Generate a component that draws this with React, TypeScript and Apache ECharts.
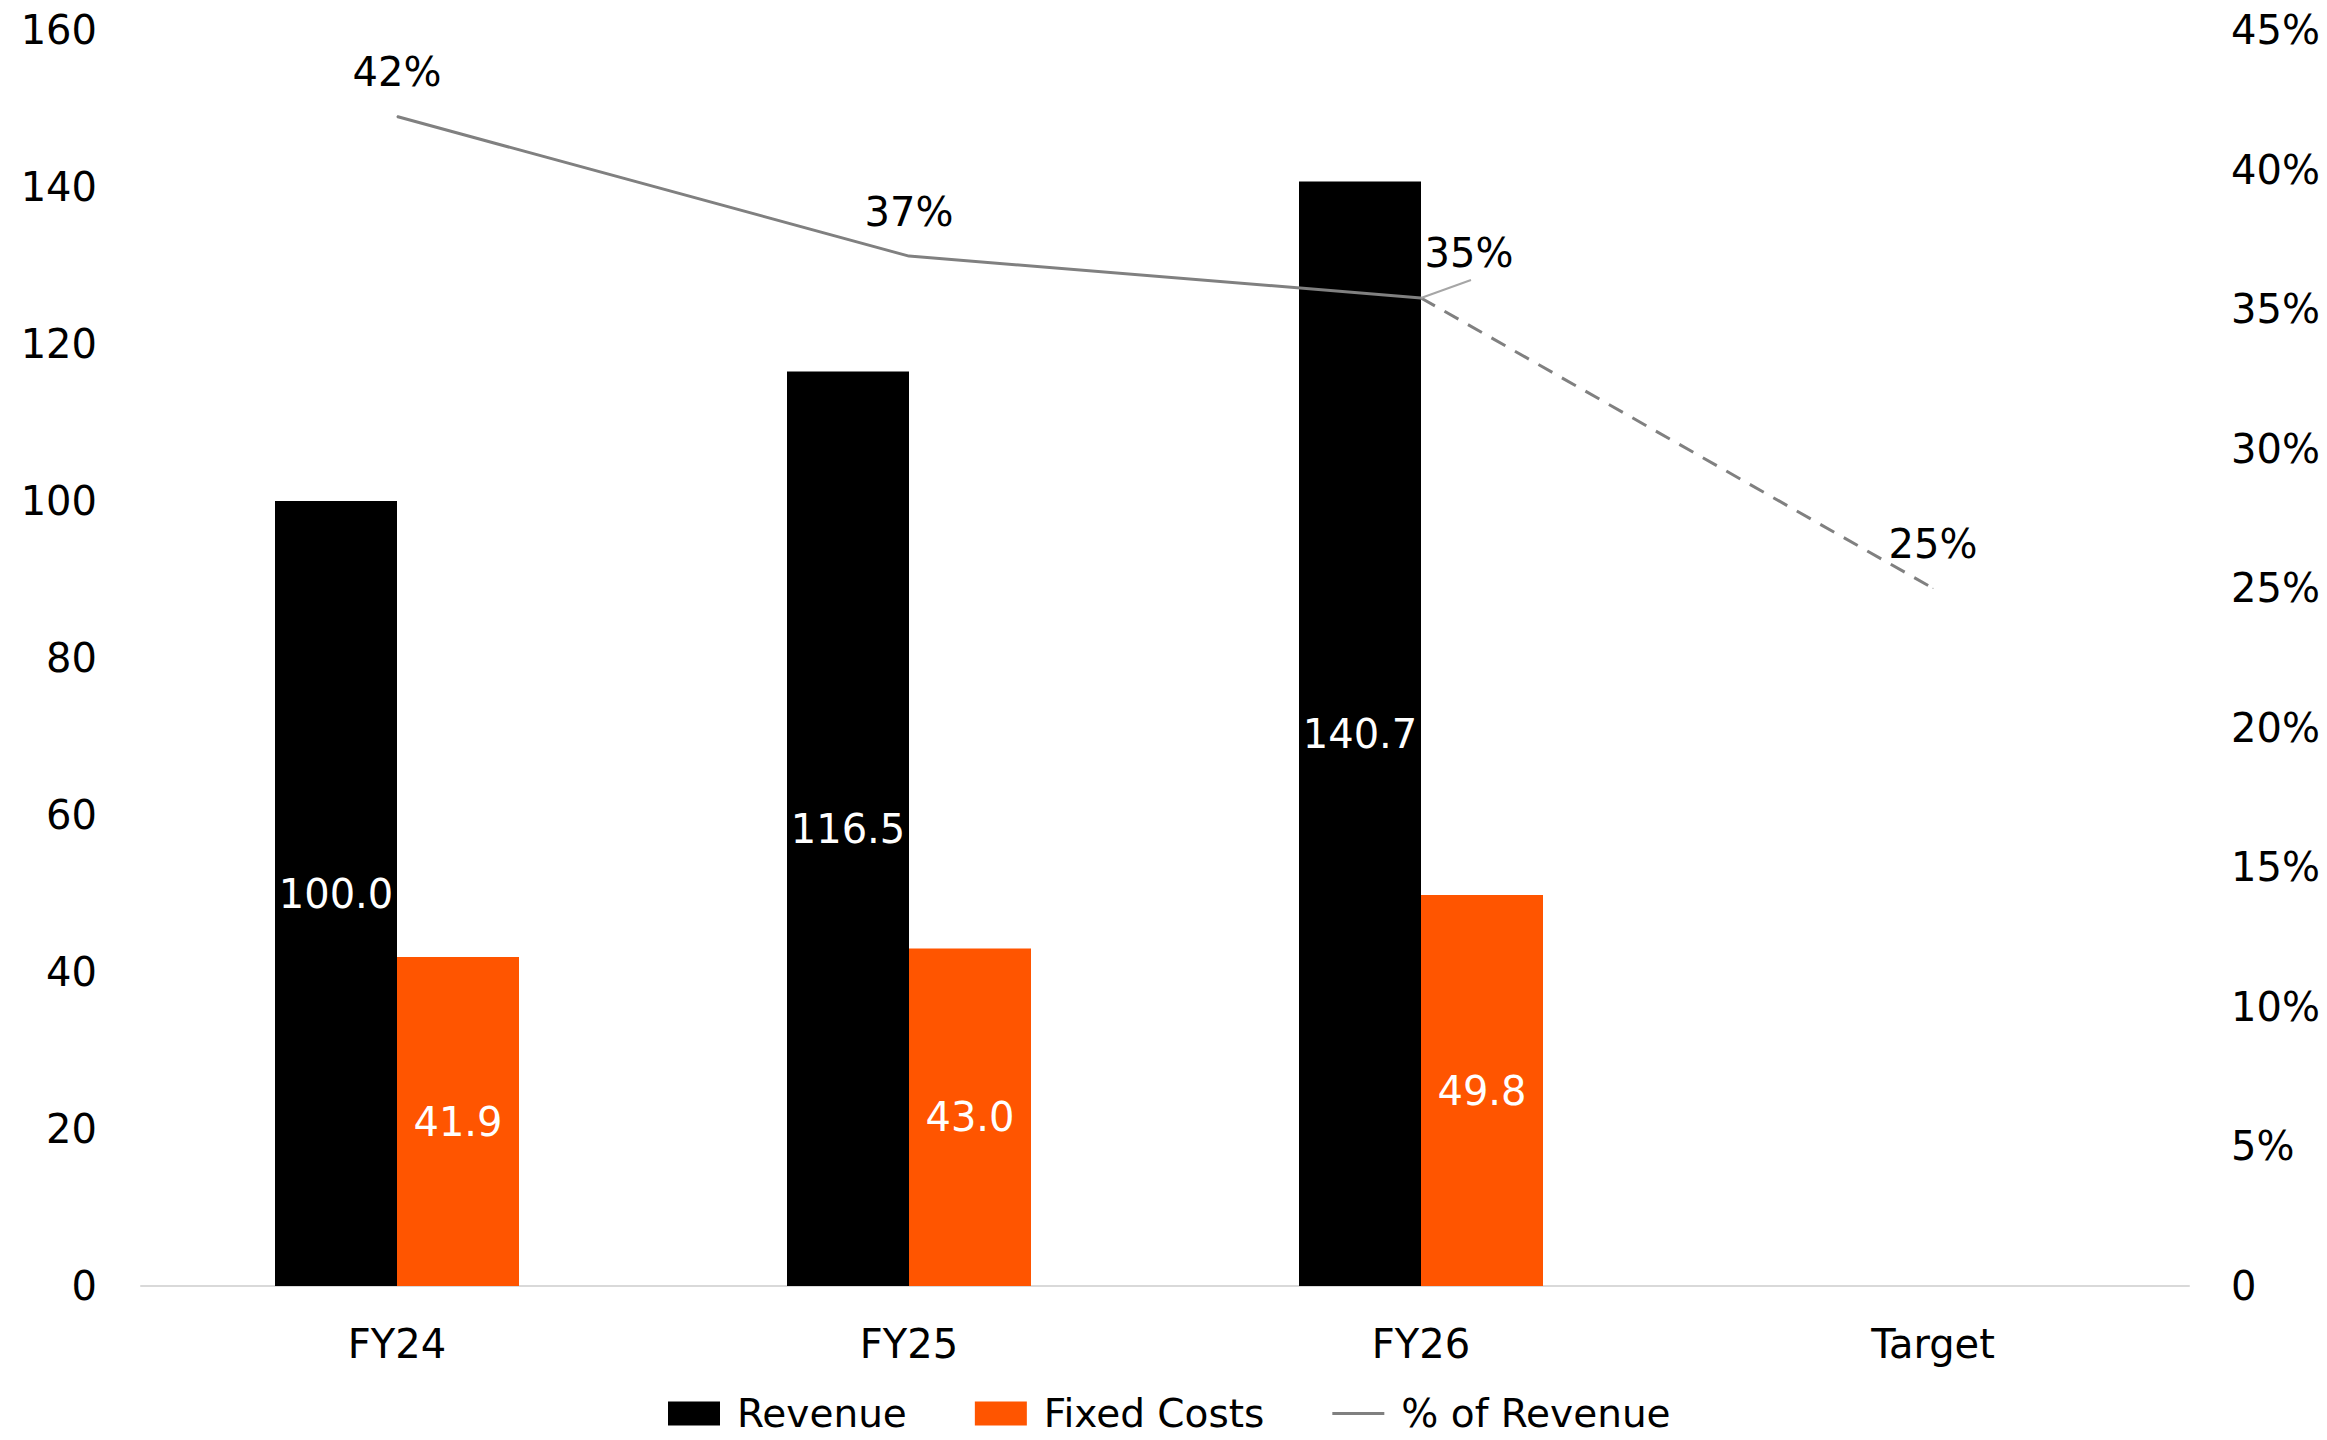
import React, { useEffect, useRef } from "react";
import * as echarts from "echarts";

// Categories and values
const categories = ["FY24", "FY25", "FY26", "Target"];
const revenue = [100.0, 116.5, 140.7, null];
const fixedCosts = [41.9, 43.0, 49.8, null];
// Fixed costs as % of revenue (actuals) and the path to target
const pctActual = [41.9, 36.9, 35.4, null];
const pctTarget = [null, null, 35.4, 25];

const leftTicks = { min: 0, max: 160, interval: 20 };
const rightTicks = { min: 0, max: 45, interval: 5 };

const FONT = "DejaVu Sans";
const ORANGE = "#FF5500";
const GREY = "#808080";

// index of the point whose label is pushed aside with a leader
const LEADER_INDEX = 2;
const LEADER_DX = 48;

export default function App() {
  const ref = useRef<HTMLDivElement>(null);

  useEffect(() => {
    if (!ref.current) return;
    const chart = echarts.init(ref.current, undefined, { renderer: "svg" });

    const txt = { fontFamily: FONT, fontSize: 40, color: "#000" };

    chart.setOption({
      animation: false,
      backgroundColor: "#fff",
      textStyle: { fontFamily: FONT },
      grid: { left: 141, right: 138, top: 30, bottom: 154, containLabel: false },
      legend: {
        left: 663,
        top: 1389,
        itemWidth: 52,
        itemHeight: 24,
        itemGap: 68,
        textStyle: { ...txt, fontSize: 39, lineHeight: 39, padding: [0, 0, 0, 12] },
        data: [
          { name: "Revenue", icon: "rect" },
          { name: "Fixed Costs", icon: "rect" },
          { name: "% of Revenue", icon: "path://M0,0L52,0L52,3L0,3Z" },
        ],
      },
      xAxis: {
        type: "category",
        data: categories,
        boundaryGap: true,
        axisTick: { show: false },
        axisLine: { lineStyle: { color: "#d9d9d9", width: 2 } },
        axisLabel: { ...txt, margin: 38 },
      },
      yAxis: [
        {
          type: "value",
          ...leftTicks,
          splitLine: { show: false },
          axisLine: { show: false },
          axisTick: { show: false },
          axisLabel: { ...txt, margin: 44 },
        },
        {
          type: "value",
          position: "right",
          ...rightTicks,
          splitLine: { show: false },
          axisLine: { show: false },
          axisTick: { show: false },
          axisLabel: {
            ...txt,
            margin: 42,
            formatter: (v: number) => (v === 0 ? "0" : `${v}%`),
          },
        },
      ],
      series: [
        {
          name: "Revenue",
          type: "bar",
          data: revenue,
          barWidth: 122,
          barGap: "0%",
          itemStyle: { color: "#000" },
          label: {
            show: true,
            position: "inside",
            ...txt,
            color: "#fff",
            formatter: (p: any) => Number(p.value).toFixed(1),
          },
        },
        {
          name: "Fixed Costs",
          type: "bar",
          data: fixedCosts,
          barWidth: 122,
          barGap: "0%",
          itemStyle: { color: ORANGE },
          label: {
            show: true,
            position: "inside",
            ...txt,
            color: "#fff",
            formatter: (p: any) => Number(p.value).toFixed(1),
          },
        },
        {
          name: "% of Revenue",
          type: "line",
          yAxisIndex: 1,
          z: 5,
          data: pctActual,
          symbol: "circle",
          symbolSize: 1,
          itemStyle: { color: GREY },
          lineStyle: { color: GREY, width: 3 },
          label: {
            show: true,
            position: "top",
            distance: 24,
            ...txt,
            formatter: (p: any) => `${Math.round(p.value)}%`,
          },
          labelLayout: (p: any) => (p.dataIndex === LEADER_INDEX ? { dx: LEADER_DX } : {}),
        },
        {
          name: "% of Revenue",
          type: "line",
          yAxisIndex: 1,
          z: 5,
          data: pctTarget.map((v, i) =>
            i === LEADER_INDEX ? { value: v, label: { show: false } } : v
          ),
          symbol: "circle",
          symbolSize: 1,
          itemStyle: { color: GREY },
          lineStyle: { color: GREY, width: 3, type: [16, 11] },
          label: {
            show: true,
            position: "top",
            distance: 24,
            ...txt,
            formatter: (p: any) => `${Math.round(p.value)}%`,
          },
        },
      ],
    });

    // Leader from the FY26 point up to the base of its shifted label
    const pt = chart.convertToPixel({ seriesIndex: 2 }, [
      LEADER_INDEX,
      pctActual[LEADER_INDEX] as number,
    ]) as number[];
    if (pt && isFinite(pt[0]) && isFinite(pt[1])) {
      chart.setOption({
        graphic: [
          {
            type: "line",
            z: 10,
            shape: { x1: pt[0], y1: pt[1], x2: pt[0] + LEADER_DX + 2, y2: pt[1] - 18 },
            style: { stroke: "#a6a6a6", lineWidth: 2 },
          },
        ],
      });
    }

    return () => chart.dispose();
  }, []);

  return (
    <div
      ref={ref}
      style={{ position: "fixed", left: 0, top: 0, width: 2327, height: 1440 }}
    />
  );
}
